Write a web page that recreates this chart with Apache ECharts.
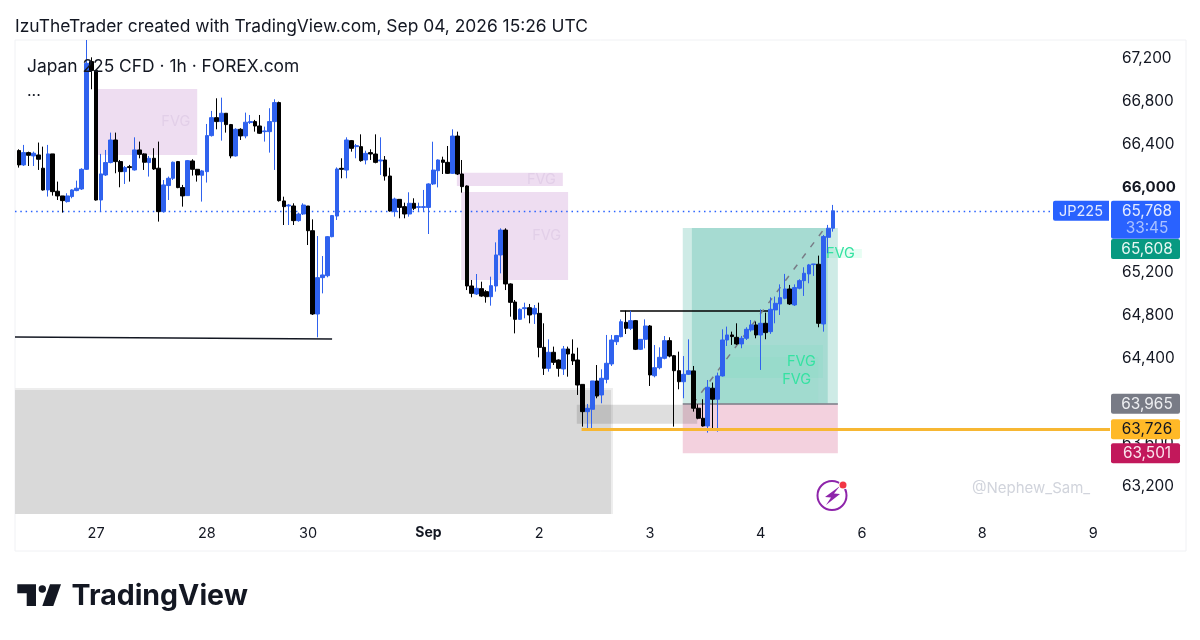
<!DOCTYPE html>
<html>
<head>
<meta charset="utf-8">
<title>Japan 225 CFD</title>
<script src="https://cdn.jsdelivr.net/npm/echarts@6/dist/echarts.min.js"></script>
<style>
html, body { margin: 0; padding: 0; background: #fff; }
#main { width: 1200px; height: 640px; }
</style>
</head>
<body>
<div id="main"></div>
<script>
// hourly candles
var opens = [
	66331,66197,66312,66281,66290,66166,65963,66300,65951,65907,
	65854,65901,65957,65972,66156,67163,67079,65869,66103,66219,
	66430,66228,66134,66181,66150,66337,66300,66219,66259,66166,
	65760,66004,66072,66228,65985,65910,66234,66156,66100,66134,
	66471,66639,66602,66680,66574,66281,66530,66468,66593,66602,
	66561,66508,66508,66602,66780,65860,65813,65813,65676,65738,
	65813,65582,64803,65143,65161,65526,65719,66165,66149,66424,
	66368,66368,66243,66312,66299,66234,66243,66093,65760,65875,
	65807,65738,65838,65800,65800,65800,66019,66143,66243,66221,
	66118,66467,66112,66000,65065,64990,65040,65012,64965,65065,
	65355,65588,65084,64915,64753,64853,64862,64803,64809,64491,
	64295,64445,64373,64289,64476,64429,64373,64145,63890,63912,
	64177,64046,64192,64336,64544,64591,64725,64669,64741,64473,
	64566,64691,64226,64301,64389,64554,64413,64273,64170,64239,
	64271,63922,63828,63756,64109,64006,64224,64560,64607,64585,
	64523,64576,64654,64701,64607,64716,64638,64841,64897,64950,
	65037,64888,65044,65115,65178,65265,65268,64710,65520,65605
];
var closes = [
	66197,66312,66287,66306,66250,65963,66300,65947,65907,65863,
	65907,65963,65979,66156,67147,67079,65869,66113,66219,66430,
	66228,66134,66172,66172,66337,66296,66222,66259,66159,65760,
	66010,66072,66222,65985,65907,66237,66156,66103,66141,66471,
	66639,66602,66680,66574,66281,66530,66468,66596,66602,66561,
	66493,66515,66602,66780,65863,65807,65822,65676,65738,65822,
	65582,64803,65143,65168,65526,65723,66159,66156,66430,66352,
	66377,66237,66305,66299,66221,66243,66093,65766,65878,65800,
	65738,65838,65791,65807,65807,66019,66149,66243,66221,66118,
	66467,66112,65994,65065,64996,65043,64971,64965,65068,65355,
	65588,65084,64912,64753,64847,64862,64794,64856,64491,64295,
	64445,64351,64295,64476,64429,64364,64139,63890,63921,64177,
	64036,64202,64342,64560,64601,64731,64669,64741,64473,64566,
	64691,64233,64301,64398,64554,64410,64273,64170,64239,64273,
	63922,63828,63756,64118,64006,64224,64560,64607,64592,64523,
	64576,64660,64701,64607,64716,64629,64847,64903,64956,65037,
	64897,65050,65115,65184,65262,65271,64716,65527,65605,65768
];
var lows = [
	66172,66187,66187,66187,66150,65957,65901,65910,65869,65751,
	65845,65885,65951,65963,66150,66904,65863,65760,66094,66212,
	66119,65988,66019,66041,66144,66259,66150,66088,66150,65667,
	65751,65869,66056,65979,65807,65907,66097,66041,65854,66032,
	66462,66530,66424,66499,66259,66275,66430,66446,66580,66508,
	66487,66415,66312,66150,65854,65635,65635,65635,65666,65729,
	65448,64794,64585,64996,65146,65520,65682,66072,66072,66321,
	66259,66227,66202,66243,66212,66103,66050,65760,65713,65698,
	65698,65713,65775,65760,65760,65551,66009,65987,66112,66112,
	66112,66103,65938,65027,64959,64981,64965,64909,64881,65012,
	65183,65027,64778,64622,64747,64763,64716,64710,64398,64233,
	64264,64326,64217,64233,64217,64326,64046,63750,63728,63728,
	64015,63968,64155,64317,64513,64585,64616,64653,64466,64466,
	64482,64130,64211,64286,64379,64398,63750,64099,64015,64233,
	63890,63819,63750,63694,63735,63703,64218,64504,64514,64514,
	64483,64560,64638,64576,64280,64567,64617,64716,64794,64941,
	64888,64878,65034,64972,65090,65159,64679,64638,65371,65573
];
var highs = [
	66343,66384,66321,66321,66406,66368,66384,66300,66041,65907,
	65932,65969,66050,66166,67365,67203,67085,66300,66337,66499,
	66499,66243,66187,66197,66455,66415,66306,66281,66353,66415,
	66056,66088,66228,66234,66010,66243,66250,66159,66150,66580,
	66702,66820,66826,66680,66580,66540,66540,66686,66664,66618,
	66664,66555,66727,66811,66789,65900,65832,65838,65751,65838,
	65813,65688,65532,65345,65532,65729,66174,66259,66455,66430,
	66393,66483,66330,66343,66483,66455,66280,66171,65891,65875,
	65844,65941,65885,65844,65963,66025,66414,66249,66274,66374,
	66530,66508,66243,66006,65121,65177,65105,65027,65152,65473,
	65604,65604,65090,64934,64856,64909,64897,64887,64909,64716,
	64566,64498,64379,64504,64498,64566,64488,64145,63962,64177,
	64326,64286,64607,64607,64607,64753,64834,64834,64747,64566,
	64753,64700,64513,64491,64597,64585,64420,64451,64410,64566,
	64317,63959,64006,64186,64162,64255,64660,64685,64638,64716,
	64598,64679,64747,64732,64847,64816,64959,64966,65080,65178,
	65075,65080,65128,65240,65271,65271,65349,65542,65636,65823
];

var priceMin = 62933;
var priceMax = 67365;
var barCount = 227;
var priceTicks = [67200,66800,66400,66000,65200,64800,64400,63600,63200];
var tickBars = [16,39,60,85,108,131,154,175,200,223];
var tickLabels = ['27','28','30','Sep','2','3','4','6','8','9'];

var lastPrice = 65768;
var targetPrice = 65608;
var entryPrice = 63965;
var levelPrice = 63726;
var stopPrice = 63501;

// zones: [bar from, bar to, price top, price bottom]
var grayEdge = [-0.83,123.3,64110,62933];
var grayZone = [-0.83,122.9,64093,62933];
var grayBand = [115.8,140.8,63954,63778];
var fvgTop = [16.2,37,66907,66290];
var fvgStrip = [90.9,112.9,66124,66000];
var fvgMid = [91.8,114,65944,65121];
var profitOuter = [137.8,170,targetPrice,entryPrice];
var profitInner = [139.7,167.9,targetPrice,entryPrice];
var lossZone = [137.8,170,entryPrice,stopPrice];
var fvgGreenA = [146.1,166.9,64513,64205];
var fvgGreenB = [145.5,165.9,64401,63971];
var fvgGreenC = [167.5,175,65411,65327];

// lines: [bar from, price from, bar to, price to]
var swingLow = [-0.83,64588,65,64569];
var swingHigh = [124.8,64836,155.5,64836];
var trendLine = [139.9,63962,167.3,65607];

var fontName = 'Inter, "Noto Sans", sans-serif';
var textColor = '#131722';

var categories = [];
for (var i = 0; i < barCount; i++) {
	var t = tickBars.indexOf(i);
	categories[i] = t >= 0 ? tickLabels[t] : '';
}
var candles = [];
for (var i = 0; i < opens.length; i++) {
	candles[i] = [opens[i], closes[i], lows[i], highs[i]];
}

function zone(z, color, label, labelColor) {
	return [{
		coord: [z[0], z[2]],
		itemStyle: { color: color },
		label: label ? {
			show: true, formatter: label, position: 'insideRight', distance: 7,
			color: labelColor, fontSize: 14.5, fontFamily: fontName
		} : { show: false }
	}, { coord: [z[1], z[3]] }];
}
function line(l, color, width, type) {
	return [{
		coord: [l[0], l[1]],
		lineStyle: { color: color, width: width, type: type }
	}, { coord: [l[2], l[3]] }];
}

var pinkFvg = '#EEDDF1', pinkText = '#E2CFE8', mintText = '#35E2A2';

var myChart = echarts.init(document.getElementById('main'));
var option = {
	animation: false,
	backgroundColor: '#fff',
	grid: [
		{ left: 16.6, right: 90, top: 40, bottom: 126 },
		{ left: 15, right: 90, top: 40, bottom: 126 } // same price scale, for drawings
	],
	xAxis: [{
		type: 'category',
		data: categories,
		boundaryGap: true,
		axisLine: { show: false },
		axisTick: { show: false },
		axisLabel: {
			interval: function(index) { return tickBars.indexOf(index) >= 0; },
			hideOverlap: false,
			margin: 12,
			formatter: function(value) { return value === 'Sep' ? '{b|Sep}' : '{n|' + value + '}'; },
			rich: {
				b: { fontWeight: 'bold', fontSize: 14, color: textColor, fontFamily: fontName },
				n: { fontSize: 14.5, color: textColor, fontFamily: fontName }
			}
		}
	}, {
		type: 'value', gridIndex: 1, show: false, min: -0.83, max: 226.5
	}],
	yAxis: [{
		type: 'value',
		position: 'right',
		min: priceMin,
		max: priceMax,
		splitLine: { show: false },
		axisLine: { show: false },
		axisTick: { show: false },
		axisLabel: {
			customValues: priceTicks,
			margin: 12,
			padding: [2, 0, 0, 0],
			formatter: function(value) {
				var s = value.toLocaleString('en-US');
				return value === 66000 ? '{b|' + s + '}' : '{n|' + s + '}';
			},
			rich: {
				b: { fontWeight: 'bold', fontSize: 15, color: textColor, fontFamily: fontName },
				n: { fontSize: 15.4, color: textColor, fontFamily: fontName }
			}
		}
	}, {
		type: 'value', gridIndex: 1, show: false, min: priceMin, max: priceMax
	}],
	series: [{
		name: 'zones',
		type: 'line',
		xAxisIndex: 1,
		yAxisIndex: 1,
		data: [],
		z: 1,
		markArea: {
			silent: true,
			z: 1,
			data: [
				zone(grayEdge, '#EDEDED'),
				zone(grayZone, '#D9D9D9'),
				zone(fvgTop, pinkFvg, 'FVG', pinkText),
				zone(fvgStrip, pinkFvg, 'FVG', pinkText),
				zone(fvgMid, pinkFvg, 'FVG', pinkText),
				zone(profitOuter, 'rgba(8,153,129,0.2)'),
				zone(profitInner, 'rgba(8,153,129,0.2)'),
				zone(lossZone, 'rgba(194,24,91,0.2)'),
				zone(grayBand, 'rgba(90,90,90,0.2)'),
				zone(fvgGreenA, 'rgba(40,225,150,0.07)', 'FVG', mintText),
				zone(fvgGreenB, 'rgba(40,225,150,0.04)', 'FVG', mintText),
				zone(fvgGreenC, 'rgba(60,235,160,0.12)', 'FVG', mintText)
			]
		}
	}, {
		name: 'lines',
		type: 'line',
		xAxisIndex: 1,
		yAxisIndex: 1,
		data: [],
		z: 1,
		markLine: {
			silent: true,
			z: 1,
			symbol: 'none',
			label: { show: false },
			data: [
				line(swingLow, textColor, 1.5, 'solid'),
				line(swingHigh, '#000', 1.5, 'solid'),
				line(trendLine, '#787B86', 1.5, [6, 8]),
				line([137.8, entryPrice, 170, entryPrice], '#787B86', 1.5, 'solid'),
				line([-0.83, lastPrice, 214.4, lastPrice], '#2962FF', 1.3, [1.5, 3.8])
			]
		}
	}, {
		name: 'Japan 225 CFD',
		type: 'candlestick',
		xAxisIndex: 0,
		yAxisIndex: 0,
		z: 2,
		barWidth: 4.2,
		data: candles,
		itemStyle: {
			color: '#2F62EE',
			color0: '#000',
			borderColor: '#2F62EE',
			borderColor0: '#000',
			borderWidth: 1
		}
	}, {
		name: 'level',
		type: 'line',
		xAxisIndex: 1,
		yAxisIndex: 1,
		data: [],
		z: 3,
		markLine: {
			silent: true,
			z: 3,
			symbol: 'none',
			label: { show: false },
			data: [line([116.8, levelPrice, 226.5, levelPrice], '#F7B733', 3, 'solid')]
		}
	}]
};
myChart.setOption(option);

// price tags on the right, placed through the price scale
function priceY(price) {
	return myChart.convertToPixel({ yAxisIndex: 0 }, price);
}
function label(text, x, y, size, color, extra) {
	var s = { text: text, x: x, y: y, fontSize: size, fill: color, fontFamily: fontName, verticalAlign: 'middle' };
	for (var k in extra) { s[k] = extra[k]; }
	return { type: 'text', z: 60, style: s };
}
function tag(list, price, color, textCol, shift) {
	var y = priceY(price) + (shift || 0);
	list.push({ type: 'rect', z: 50, shape: { x: 1111, y: y - 10, width: 69, height: 20, r: 2 }, style: { fill: color } });
	list.push(label(price.toLocaleString('en-US'), 1147, y + 0.5, 15.4, textCol, { align: 'center' }));
}

var lastY = priceY(lastPrice);
var graphics = [
	{ type: 'rect', z: 0, shape: { x: 15, y: 40, width: 1171, height: 511 }, style: { fill: 'none', stroke: '#F0F1F4', lineWidth: 1 } },
	label('IzuTheTrader created with TradingView.com, Sep 04, 2026 15:26 UTC', 15, 27, 17.4, textColor),
	label('Japan 225 CFD · 1h · FOREX.com', 27, 66.5, 17.4, textColor),
	label('...', 27, 91, 16, textColor),
	{ type: 'rect', z: 50, shape: { x: 1053, y: lastY - 10, width: 56, height: 20, r: [2, 0, 0, 2] }, style: { fill: '#2962FF' } },
	label('JP225', 1081, lastY + 0.5, 14.5, '#E3EAFF', { align: 'center' }),
	{ type: 'rect', z: 50, shape: { x: 1111, y: lastY - 10, width: 69, height: 38, r: 2 }, style: { fill: '#2962FF' } },
	label('65,768', 1147, lastY + 0.5, 15.4, '#E3EAFF', { align: 'center' }),
	label('33:45', 1147, lastY + 17.5, 15.4, '#A9C1FF', { align: 'center' }),
	label('@Nephew_Sam_', 972, 488, 15, '#D1D4DC'),
	{ type: 'circle', z: 20, shape: { cx: 832, cy: 495.5, r: 14.5 }, style: { fill: 'none', stroke: '#8E24AA', lineWidth: 2 } },
	{ type: 'polygon', z: 21, shape: { points: [[840, 486], [825, 497], [831, 497.5], [826, 505], [840, 494], [834, 493.5]] }, style: { fill: '#8E24AA' } },
	{ type: 'circle', z: 22, shape: { cx: 843, cy: 485, r: 4.5 }, style: { fill: '#fff' } },
	{ type: 'circle', z: 23, shape: { cx: 843, cy: 485, r: 3.5 }, style: { fill: '#F23645' } },
	// TradingView mark
	{ type: 'polygon', z: 30, shape: { points: [[17.3, 584.3], [36, 584.3], [36, 606], [26.7, 606], [26.7, 593.3], [17.3, 593.3]] }, style: { fill: textColor } },
	{ type: 'circle', z: 30, shape: { cx: 42.3, cy: 589, r: 3.7 }, style: { fill: textColor } },
	{ type: 'polygon', z: 30, shape: { points: [[50, 584.3], [61, 584.3], [53.3, 606], [42.3, 606]] }, style: { fill: textColor } },
	label('TradingView', 71.5, 596, 28.5, textColor, { fontWeight: 'bold' })
];
// the target tag sits pushed down below the blue one, as on the original
tag(graphics, targetPrice, '#089981', '#E6F7F3', 21);
tag(graphics, entryPrice, '#787B86', '#EDEEF1');
tag(graphics, levelPrice, '#FFB927', textColor);
tag(graphics, stopPrice, '#C2185B', '#FBE3EC');
myChart.setOption({ graphic: graphics });
</script>
</body>
</html>
